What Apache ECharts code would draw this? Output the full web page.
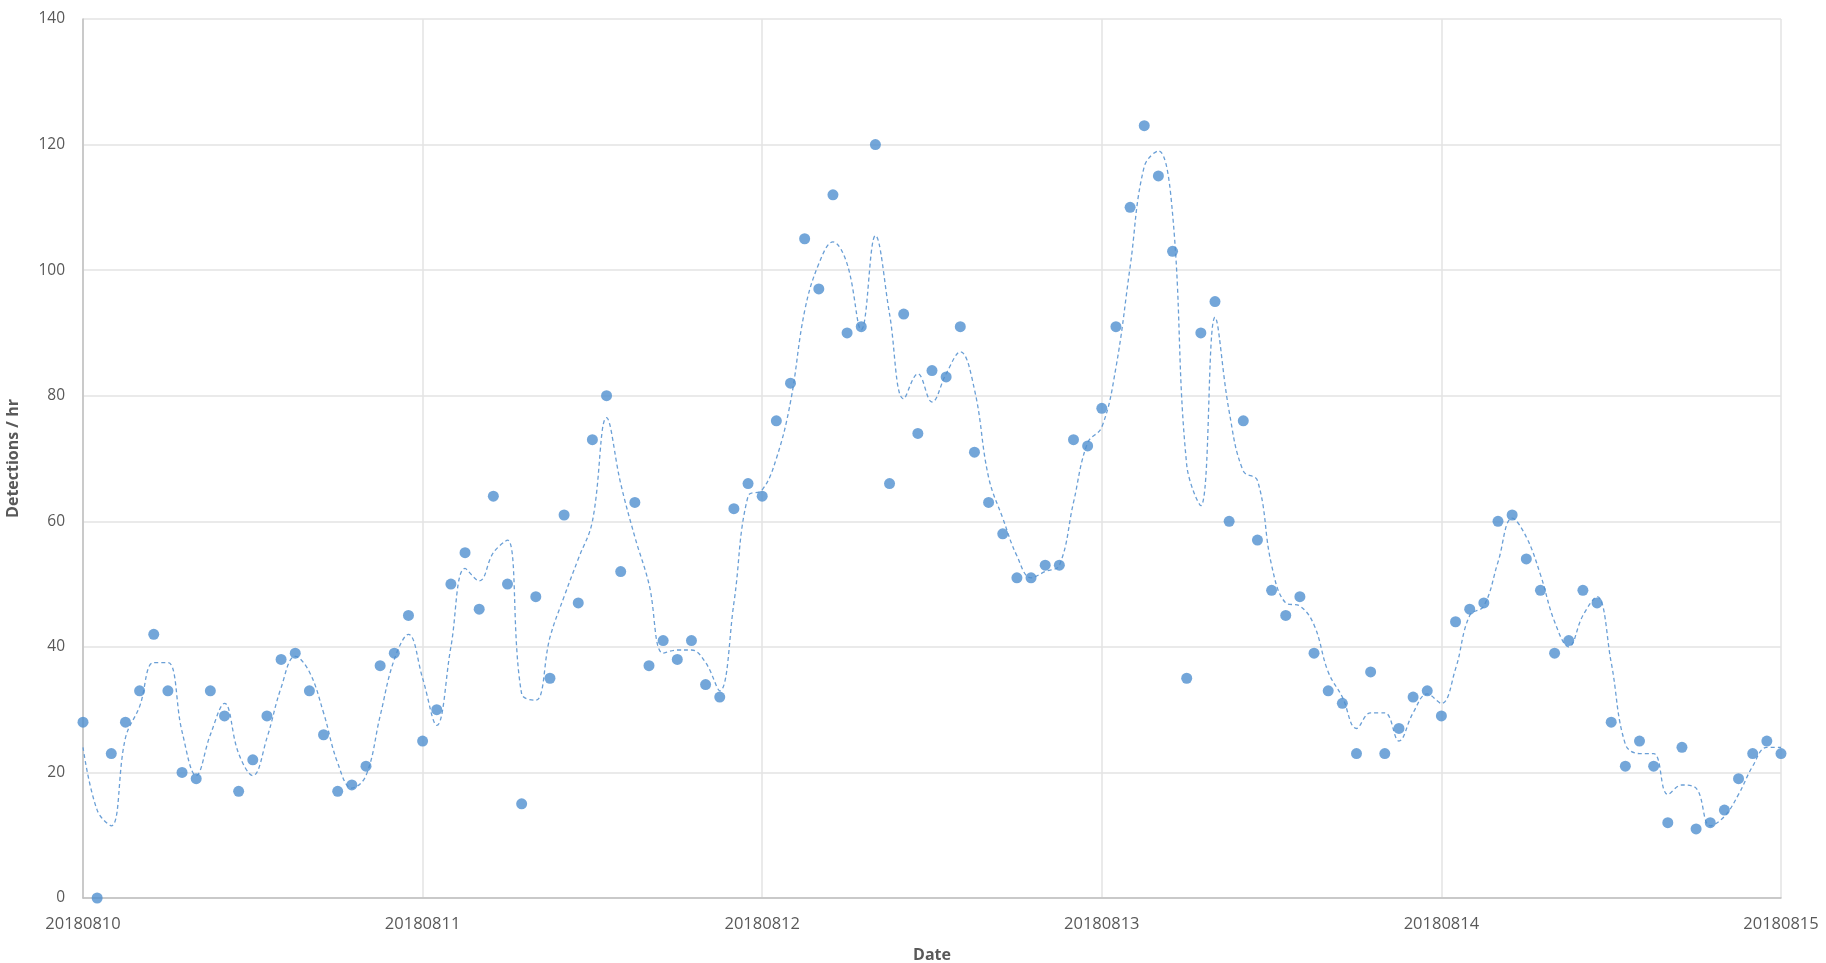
<!DOCTYPE html>
<html>
<head>
<meta charset="utf-8">
<title>Detections / hr</title>
<script src="https://cdn.jsdelivr.net/npm/echarts@6/dist/echarts.min.js"></script>
<style>
  html, body { margin: 0; padding: 0; background: #fff; }
  #chart { width: 1826px; height: 963px; }
</style>
</head>
<body>
<div id="chart"></div>
<script>
// hourly detections, hour 0 = 20180810 00:00
const detections = [
  28, 0, 23, 28, 33, 42, 33, 20, 19, 33, 29, 17, 22, 29, 38, 39, 33, 26, 17, 18, 21, 37, 39, 45,
  25, 30, 50, 55, 46, 64, 50, 15, 48, 35, 61, 47, 73, 80, 52, 63, 37, 41, 38, 41, 34, 32, 62, 66,
  64, 76, 82, 105, 97, 112, 90, 91, 120, 66, 93, 74, 84, 83, 91, 71, 63, 58, 51, 51, 53, 53, 73, 72,
  78, 91, 110, 123, 115, 103, 35, 90, 95, 60, 76, 57, 49, 45, 48, 39, 33, 31, 23, 36, 23, 27, 32, 33,
  29, 44, 46, 47, 60, 61, 54, 49, 39, 41, 49, 47, 28, 21, 25, 21, 12, 24, 11, 12, 14, 19, 23, 25, 23
];

// dashed trend line
const trend = [
  24, 14, 11.5, 25.5, 30.5, 37.5, 37.5, 26.5, 19.5, 26, 31, 23, 19.5, 25.5, 33.5, 38.5, 36, 29.5, 21.5, 17.5, 19.5, 29, 38, 42,
  35, 27.5, 40, 52.5, 50.5, 55, 57, 32.5, 31.5, 41.5, 48, 54, 60, 76.5, 66, 57.5, 50, 39, 39.5, 39.5, 37.5, 33, 47, 64,
  65, 70, 79, 93.5, 101, 104.5, 101, 90.5, 105.5, 93, 79.5, 83.5, 79, 83.5, 87, 81, 67, 60.5, 54.5, 51, 52, 53, 63, 72.5,
  75, 84.5, 100.5, 116.5, 119, 109, 69, 62.5, 92.5, 77.5, 68, 66.5, 53, 47, 46.5, 43.5, 36, 32, 27, 29.5, 29.5, 25, 29.5, 32.5,
  31, 36.5, 45, 46.5, 53.5, 60.5, 57.5, 51.5, 44, 40, 45, 48, 37.5, 24.5, 23, 23, 16.5, 18, 17.5, 11.5, 13, 16.5, 21, 24, 24
];

const dateLabels = ['20180810', '20180811', '20180812', '20180813', '20180814', '20180815'];

const blue = '#5090cf';
const textColor = '#595959';
const font = '"Open Sans", "Noto Sans", sans-serif';

const chart = echarts.init(document.getElementById('chart'));

const option = {
  animation: false,
  textStyle: { fontFamily: font },
  grid: {
    left: 83,
    right: 45,
    top: 19,
    bottom: 65,
    outerBoundsMode: 'none'
  },
  xAxis: {
    type: 'value',
    min: 0,
    max: 120,
    interval: 24,
    name: 'Date',
    nameLocation: 'middle',
    nameGap: 49,
    nameTextStyle: { color: textColor, fontSize: 16, fontWeight: 'bold', fontFamily: font },
    axisLine: { show: true, lineStyle: { color: '#bfbfbf', width: 1.5 } },
    axisTick: { show: false },
    axisLabel: {
      color: textColor,
      fontSize: 16.5,
      margin: 18,
      showMinLabel: true,
      showMaxLabel: true,
      formatter: v => dateLabels[Math.round(v / 24)] || ''
    },
    splitLine: { show: true, lineStyle: { color: '#e3e3e3', width: 1.5 } }
  },
  yAxis: {
    type: 'value',
    min: 0,
    max: 140,
    interval: 20,
    name: 'Detections / hr',
    nameLocation: 'middle',
    nameGap: 62,
    nameTextStyle: { color: textColor, fontSize: 16, fontWeight: 'bold', fontFamily: font },
    axisLine: { show: true, lineStyle: { color: '#bfbfbf', width: 1.5 } },
    axisTick: { show: false },
    axisLabel: { color: textColor, fontSize: 15.5, margin: 18 },
    splitLine: { show: true, lineStyle: { color: '#e3e3e3', width: 1.5 } }
  },
  series: [
    {
      name: 'Trend',
      type: 'line',
      data: trend.map((v, i) => [i, v]),
      smooth: 0.4,
      showSymbol: false,
      symbol: 'none',
      lineStyle: { color: '#6a9fd6', width: 1.3, type: [4, 3] },
      z: 2
    },
    {
      name: 'Detections',
      type: 'scatter',
      data: detections.map((v, i) => [i, v]),
      symbolSize: 11,
      itemStyle: { color: blue },
      z: 3
    }
  ]
};

chart.setOption(option);
</script>
</body>
</html>
